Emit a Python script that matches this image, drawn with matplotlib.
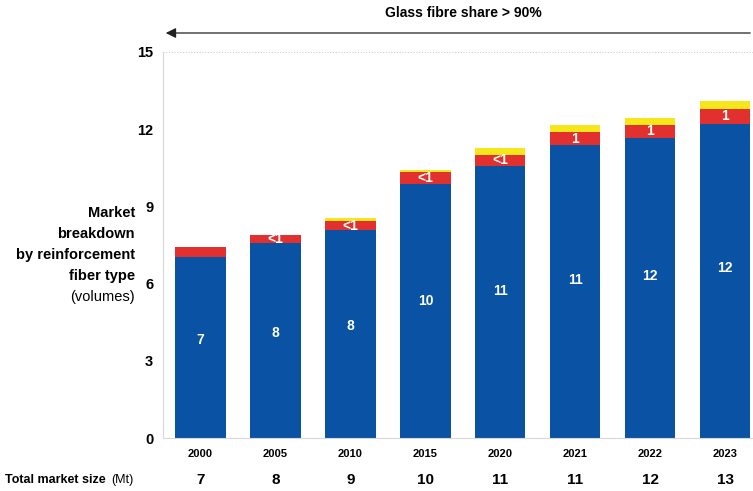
import numpy as np
import matplotlib.pyplot as plt
from matplotlib.patches import FancyArrowPatch

plt.rcParams['font.family'] = ['Liberation Sans', 'DejaVu Sans']

# Market breakdown by reinforcement fiber type (Mt)
years = ['2000', '2005', '2010', '2015', '2020', '2021', '2022', '2023']
glass = [7.04, 7.59, 8.07, 9.88, 10.56, 11.37, 11.66, 12.20]
carbon = [0.39, 0.31, 0.37, 0.44, 0.45, 0.52, 0.52, 0.60]
other = [0.00, 0.00, 0.09, 0.11, 0.26, 0.26, 0.26, 0.29]
glass_lbl = ['7', '8', '8', '10', '11', '11', '12', '12']
carbon_lbl = ['', '<1', '<1', '<1', '<1', '1', '1', '1']
totals = ['7', '8', '9', '10', '11', '11', '12', '13']

blue = '#0a52a3'
red = '#e2302e'
yellow = '#f6e71a'

fig = plt.figure(figsize=(7.53, 4.91), dpi=100)
ax = fig.add_axes([163/753, 1 - 438/491, 1 - 163/753, 386/491])

x = np.arange(len(years))
g = np.array(glass)
c = np.array(carbon)
o = np.array(other)
w = 0.67
ax.bar(x, g, w, color=blue, zorder=2)
ax.bar(x, c, w, bottom=g, color=red, zorder=2)
ax.bar(x, o, w, bottom=g + c, color=yellow, zorder=2)

for i in range(len(years)):
    ax.text(x[i], g[i] * 0.54, glass_lbl[i], color='white', fontweight='bold',
            fontsize=10, ha='center', va='center', zorder=3)
    if carbon_lbl[i]:
        ax.text(x[i], g[i] + c[i] / 2, carbon_lbl[i], color='white', fontweight='bold',
                fontsize=10, ha='center', va='center', zorder=3)

ax.set_xlim(-0.5, 7.37)
ax.set_ylim(0, 15)
ax.set_yticks([0, 3, 6, 9, 12, 15])
ax.set_yticklabels(['0', '3', '6', '9', '12', '15'], fontweight='bold', fontsize=10.5)
ax.tick_params(axis='y', length=0, pad=7)
ax.set_xticks(x)
ax.set_xticklabels(years, fontweight='bold', fontsize=8)
ax.tick_params(axis='x', length=0, pad=8)
for s in ['top', 'right']:
    ax.spines[s].set_visible(False)
ax.spines['left'].set_color('#d8d8d8')
ax.spines['bottom'].set_color('#d8d8d8')
ax.axhline(15, color='#cccccc', lw=0.8, ls=(0, (1, 1.5)), zorder=1)

# y label block, one text per line
ylab = ['Market', 'breakdown', 'by reinforcement', 'fiber type']
for k, line in enumerate(ylab):
    fig.text(135/753, 1 - (213 + 21*k)/491, line, ha='right', va='center',
             fontweight='bold', fontsize=10.5)
fig.text(135/753, 1 - 297/491, '(volumes)', ha='right', va='center', fontsize=10.5)

# arrow + header
fig.text(463/753, 1 - 13/491, 'Glass fibre share > 90%', ha='center', va='center',
         fontweight='bold', fontsize=10)
fig.add_artist(FancyArrowPatch(
    (753/753, 1 - 33/491), (163/753, 1 - 33/491), transform=fig.transFigure,
    arrowstyle='-|>,head_length=6,head_width=3', color='#222222', lw=0.9))

# total market size row
fig.text(5/753, 1 - 480/491, 'Total market size', ha='left', va='center',
         fontweight='bold', fontsize=9)
fig.text(134/753, 1 - 480/491, '(Mt)', ha='right', va='center', fontsize=9)
for i in range(len(years)):
    ax.annotate(totals[i], (x[i], 0), xycoords='data', xytext=(0, -30),
                textcoords='offset points', ha='center', va='center',
                fontweight='bold', fontsize=11, annotation_clip=False)

fig.savefig('out.png', dpi=100)
